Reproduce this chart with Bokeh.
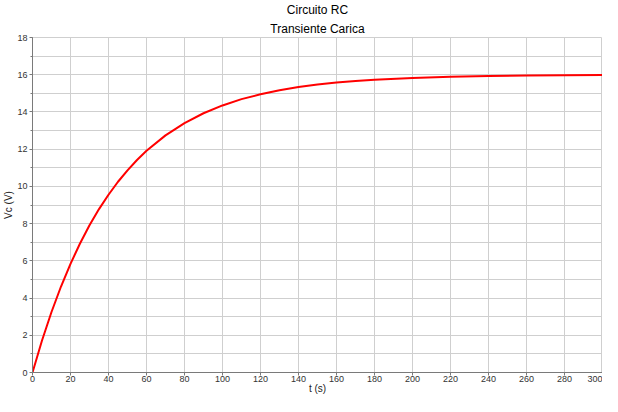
from bokeh.plotting import figure
from bokeh.models import Range1d, SingleIntervalTicker, Title
from bokeh.embed import file_html
from bokeh.resources import INLINE

# Data (time in s, capacitor voltage in V)
t_s = [0, 5, 10, 15, 20, 25, 30, 35, 40, 45, 50, 55, 60, 70, 80, 90, 100,
       110, 120, 130, 140, 150, 160, 170, 180, 200, 220, 240, 260, 280, 300]
vc_v = [0.0, 1.72, 3.25, 4.62, 5.84, 6.93, 7.91, 8.78, 9.55, 10.25, 10.86,
        11.42, 11.91, 12.74, 13.40, 13.93, 14.35, 14.69, 14.95, 15.17, 15.34,
        15.47, 15.58, 15.66, 15.73, 15.83, 15.89, 15.93, 15.96, 15.97, 15.98]

title_main = "Circuito RC"
title_sub = "Transiente Carica"
x_label = "t (s)"
y_label = "Vc (V)"

FONT = "Liberation Sans"

p = figure(width=602, height=396, output_backend="svg", toolbar_location=None,
           x_range=Range1d(0, 300), y_range=Range1d(0, 18),
           min_border_left=0, min_border_right=0, min_border_top=0,
           min_border_bottom=0)

p.add_layout(Title(text=title_sub, align="center", text_font=FONT,
                   text_font_size="12px", text_font_style="normal",
                   text_color="#000000", standoff=4, offset=0), "above")
p.add_layout(Title(text=title_main, align="center", text_font=FONT,
                   text_font_size="12px", text_font_style="normal",
                   text_color="#000000", standoff=1, offset=0), "above")

p.line(t_s, vc_v, line_color="#ff0000", line_width=2)

p.xaxis.ticker = SingleIntervalTicker(interval=20, num_minor_ticks=0)
p.yaxis.ticker = SingleIntervalTicker(interval=2, num_minor_ticks=2)

for ax in (p.xaxis[0], p.yaxis[0]):
    ax.axis_line_color = "#7a7a7a"
    ax.major_tick_line_color = "#7a7a7a"
    ax.minor_tick_line_color = "#7a7a7a"
    ax.major_tick_in = 0
    ax.major_tick_out = 3
    ax.minor_tick_in = 0
    ax.minor_tick_out = 2
    ax.major_label_text_font = FONT
    ax.major_label_text_font_size = "9px"
    ax.major_label_text_color = "#333333"
    ax.axis_label_text_font = FONT
    ax.axis_label_text_font_size = "10px"
    ax.axis_label_text_font_style = "normal"
    ax.axis_label_text_color = "#222222"

p.xaxis.axis_label = x_label
p.yaxis.axis_label = y_label
p.xaxis.major_label_standoff = 0
p.xaxis.axis_label_standoff = -2
p.yaxis.major_label_standoff = 2
p.yaxis.axis_label_standoff = 0

p.xgrid.grid_line_color = "#cfcfcf"
p.ygrid.grid_line_color = "#cfcfcf"
p.ygrid.minor_grid_line_color = "#cfcfcf"
p.outline_line_color = "#cfcfcf"
p.background_fill_color = "#ffffff"
p.border_fill_color = "#ffffff"

open("out.html", "w").write(file_html(p, INLINE))
